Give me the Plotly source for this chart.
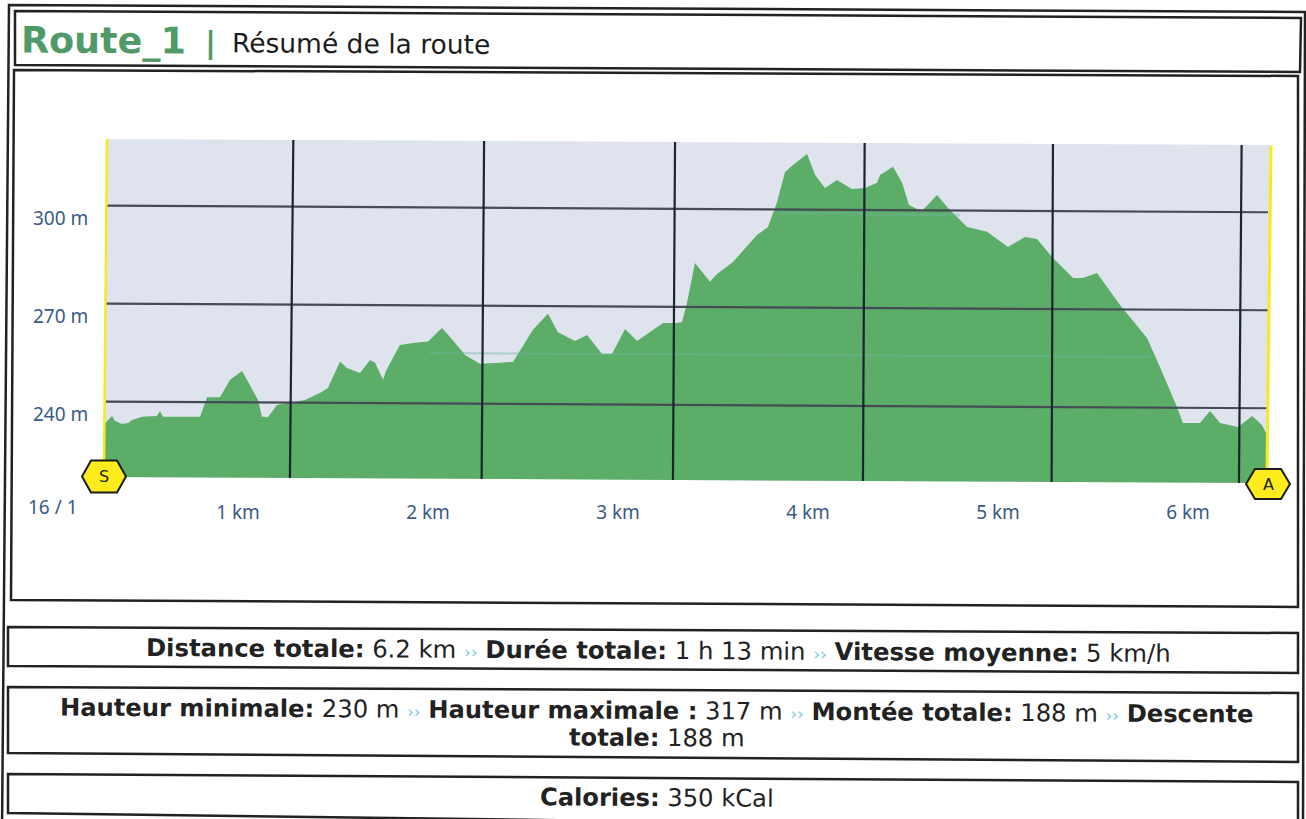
import plotly.graph_objects as go

# --- data ---
distance_km = [0.016,0.053,0.068,0.105,0.137,0.158,0.211,0.289,0.305,0.321,0.516,0.553,0.621,0.674,0.737,0.763,0.821,0.842,0.874,0.921,0.989,1.068,1.147,1.189,1.253,1.289,1.358,1.411,1.437,1.479,1.495,1.568,1.637,1.716,1.789,1.832,1.911,1.989,2.095,2.163,2.268,2.347,2.4,2.489,2.553,2.632,2.684,2.753,2.816,2.953,3.026,3.053,3.079,3.121,3.2,3.237,3.321,3.447,3.505,3.553,3.595,3.637,3.711,3.753,3.805,3.868,3.947,4.016,4.079,4.095,4.163,4.211,4.247,4.3,4.321,4.395,4.453,4.553,4.658,4.768,4.858,4.921,5.005,5.111,5.163,5.237,5.358,5.5,5.568,5.658,5.689,5.779,5.832,5.884,5.979,6.053,6.105,6.132]
elevation_m = [234.4,236.6,235.2,234.2,234.5,235.4,236.4,236.6,238.2,236.4,236.4,242.4,242.4,247.7,250.4,247.7,241.5,236.4,236.3,240,240.7,241.5,243.7,245.2,253.3,251.3,249.8,253.8,252.9,247.7,250.5,258.4,259,259.4,263.6,260.8,255.3,252.6,252.9,253.2,263,267.9,262.3,259.6,261.4,255.6,255.6,263.3,259.6,265.1,265.1,265.4,271.2,283.5,277.7,280.1,283.8,292,294.5,302.1,311.3,313.5,316.8,310.4,306.4,308.9,306.1,306.4,308,310.4,312.9,308,301.2,299.7,299.7,304.3,300.3,294.5,293,288.4,291.4,290.8,285,278.9,278.9,280.4,270.6,260.5,251.6,239.4,234.5,234.5,238.2,234.5,233.3,236.6,233.9,230.8]
km_ticks = [1, 2, 3, 4, 5, 6]
km_labels = ["1 km", "2 km", "3 km", "4 km", "5 km", "6 km"]
m_ticks = [240, 270, 300]
m_labels = ["240 m", "270 m", "300 m"]
start_label = "16 / 1"
route_name = "Route_1"
summary_title = "Résumé de la route"
stats_1 = [("Distance totale:", "6.2 km"), ("Durée totale:", "1 h 13 min"), ("Vitesse moyenne:", "5 km/h")]
stats_2 = [("Hauteur minimale:", "230 m"), ("Hauteur maximale :", "317 m"), ("Montée totale:", "188 m")]
stats_2b = ("Descente", "totale:", "188 m")
stats_3 = [("Calories:", "350 kCal")]

# --- page geometry (the reference is a slightly tilted scan) ---
W, H = 1306, 819
L, R, T, B = 30, 1295, 100, 502
X = lambda px: (px - 102) / 190
Y = lambda py: 240 + (405 - py) / 3.267
PX = lambda px: (px - L) / (R - L)
PY = lambda py: (B - py) / (B - T)

GREEN, BG, HGRID, VGRID, YELLOW = "#5bad68", "#dfe3ee", "#464b55", "#1c2430", "#f6ea1e"
FONT = "DejaVu Sans"
TICKC = "#3b5a86"

fig = go.Figure()
# panel background
bx = [X(107), X(1271), X(1268), X(104)]
by = [Y(139), Y(145), Y(483), Y(477)]
fig.add_trace(go.Scatter(x=bx, y=by, fill="toself", fillcolor=BG, mode="none", hoverinfo="skip"))
# profile
fig.add_trace(go.Scatter(
    x=[X(104)] + distance_km + [X(1267)],
    y=[Y(477)] + elevation_m + [Y(483)],
    fill="toself", fillcolor=GREEN, mode="none", hoverinfo="skip"))

shapes = []
def line(x0, y0, x1, y1, color, width, ref="x", opacity=1):
    shapes.append(dict(type="line", x0=x0, y0=y0, x1=x1, y1=y1, xref=ref, yref="y" if ref == "x" else "paper",
                       line=dict(color=color, width=width), opacity=opacity))

# faint scan streaks in the green
line(X(430), Y(353), X(1150), Y(357), "#72b7a0", 2, opacity=0.45)
line(X(778), Y(213), X(960), Y(215), "#72b7a0", 3, opacity=0.4)

# grid
for v in m_ticks:
    line(X(106), v + 1.05, X(1268), v - 1.0, HGRID, 2.2)
v_top = [1.007, 2.011, 3.016, 4.014, 5.005, 5.998]
v_bot = [0.989, 1.998, 3.005, 4.005, 4.998, 5.984]
for t, b in zip(v_top, v_bot):
    line(t, Y(139 + t), b, Y(477 + t), VGRID, 2.2)
# yellow end lines
line(X(107), Y(139), X(104), Y(470), YELLOW, 2.5)
line(X(1271), Y(146), X(1267), Y(470), YELLOW, 3)

# frames
def box(pts, width=2.5):
    path = "M " + " L ".join(f"{PX(a):.5f},{PY(b):.5f}" for a, b in pts) + " Z"
    shapes.append(dict(type="path", path=path, xref="paper", yref="paper",
                       line=dict(color="#222222", width=width), fillcolor="rgba(0,0,0,0)"))
box([(9, 5), (1305, 12), (1303, 830), (2, 830)])
box([(15, 11), (1301, 18), (1300, 72), (15, 65)])
box([(14, 70), (1298, 76), (1298, 607), (11, 600)])
box([(8, 627), (1298, 633), (1298, 673), (8, 666)])
box([(8, 687), (1298, 693), (1298, 762), (8, 753)])
box([(8, 774), (1298, 782), (1298, 830), (8, 813)])

# start / arrival badges
def badge(px, py, hw, hh, text):
    shapes.append(dict(type="path", xref="x", yref="y", xsizemode="pixel", ysizemode="pixel",
                       xanchor=X(px), yanchor=Y(py),
                       path=f"M {-hw},0 L {-hw+9},{hh} L {hw-9},{hh} L {hw},0 L {hw-9},{-hh} L {-hw+9},{-hh} Z",
                       fillcolor="#ffec1c", line=dict(color="#1c1c1c", width=2)))
    return dict(x=X(px), y=Y(py), xref="x", yref="y", text=text, showarrow=False,
                font=dict(family=FONT, size=16, color="#222"))

ann = [badge(104, 476.5, 22, 16, "S"), badge(1268, 484, 22, 15, "A")]

def note(px, py, text, size, color="#222", angle=0.33, anchor="center"):
    ann.append(dict(x=PX(px), y=PY(py), xref="paper", yref="paper", text=text, showarrow=False,
                    xanchor=anchor, yanchor="middle", textangle=angle,
                    font=dict(family=FONT, size=size, color=color)))

sep = " <span style='color:#7cc6e6;font-size:17px'>››</span> "
pair = lambda kv: f"<b>{kv[0]}</b> {kv[1]}"

note(19, 40, f"<b>{route_name}</b>", 36.5, "#4f9a68", anchor="left")
note(203, 43, "<b>|</b>", 30, "#4f9a68", anchor="left")
note(230, 44, summary_title, 26.5, "#1c1c1c", anchor="left")
note(658, 650, sep.join(pair(k) for k in stats_1), 24.3)
note(657, 711, sep.join(pair(k) for k in stats_2) + sep + f"<b>{stats_2b[0]}</b>", 24.2)
note(657, 738, f"<b>{stats_2b[1]}</b> {stats_2b[2]}", 24.2)
note(657, 798, pair(stats_3[0]), 24.2)
ann.append(dict(x=PX(53), y=PY(507), xref="paper", yref="paper", text=start_label, showarrow=False,
                xanchor="center", yanchor="middle",
                font=dict(family="Noto Sans", size=19, color=TICKC)))

fig.update_layout(
    width=W, height=H, margin=dict(l=L, r=W - R, t=T, b=H - B, pad=0), autosize=False,
    paper_bgcolor="white", plot_bgcolor="white", showlegend=False, shapes=shapes, annotations=ann,
    xaxis=dict(range=[X(L), X(R)], tickvals=km_ticks, ticktext=km_labels, showgrid=False, zeroline=False,
               showline=False, ticks="", ticklabelshift=-54, ticklabelstandoff=-3,
               tickfont=dict(family="Noto Sans", size=19, color=TICKC)),
    yaxis=dict(range=[Y(B), Y(T)], tickvals=m_ticks, ticktext=m_labels, showgrid=False, zeroline=False,
               showline=False, ticks="", ticklabelposition="inside", ticklabelshift=9,
               tickfont=dict(family="Noto Sans", size=19, color=TICKC)),
)
fig.write_html("out.html", config=dict(displayModeBar=False),
               post_script="document.body.style.margin='0';document.documentElement.style.overflow='hidden';")
